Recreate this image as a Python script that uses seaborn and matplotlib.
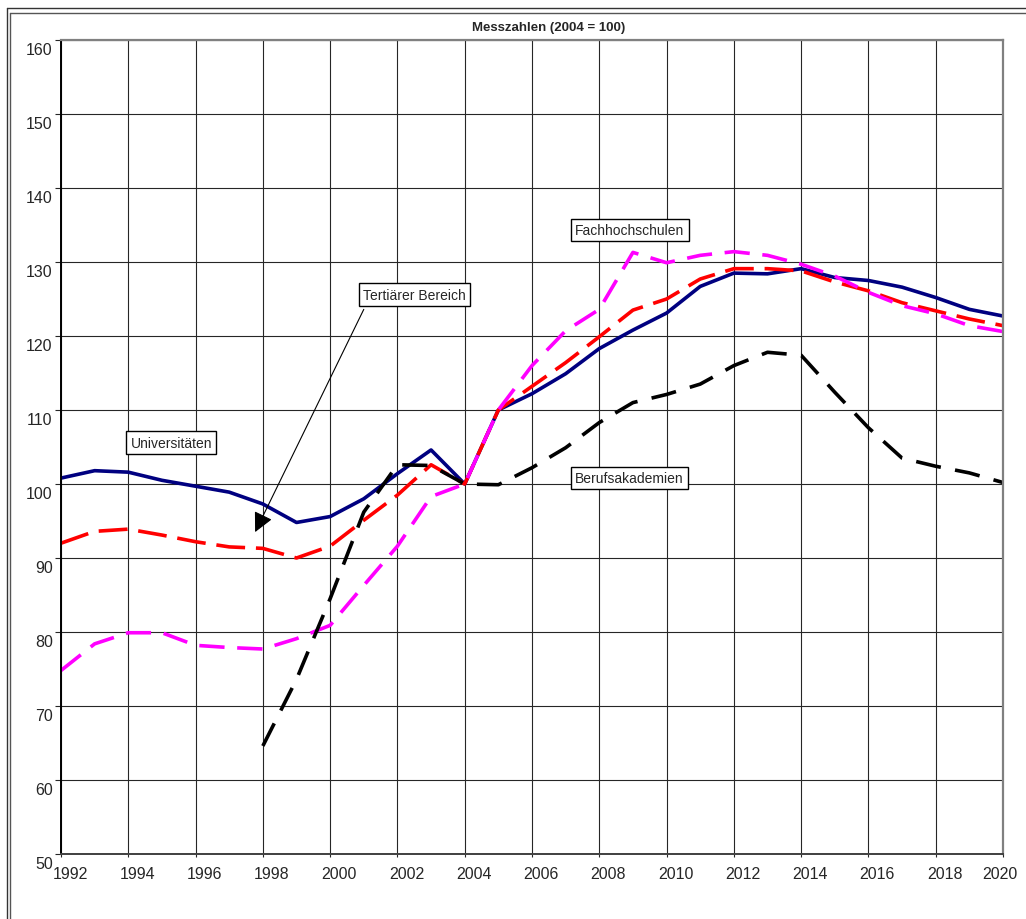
"""Messzahlen (2004 = 100): Studierende nach Hochschulart."""

import matplotlib

matplotlib.use("Agg")
import matplotlib.pyplot as plt
import matplotlib.transforms as mtransforms
import numpy as np
import pandas as pd
import seaborn as sns
from matplotlib.lines import Line2D

years = list(range(1992, 2021))

universitaeten = [100.8, 101.8, 101.6, 100.5, 99.7, 98.9, 97.3, 94.8, 95.6, 98.0,
                  101.4, 104.6, 100.0, 110.0, 112.2, 114.9, 118.3, 120.8, 123.1,
                  126.7, 128.5, 128.4, 129.1, 127.9, 127.5, 126.6, 125.2, 123.6, 122.7]
tertiaer = [92.0, 93.6, 93.9, 93.1, 92.2, 91.5, 91.3, 90.0, 91.6, 95.1,
            98.5, 102.6, 100.0, 110.0, 113.2, 116.4, 119.9, 123.5, 125.0,
            127.7, 129.1, 129.1, 128.8, 127.3, 126.1, 124.5, 123.4, 122.3, 121.4]
fachhochschulen = [74.8, 78.4, 79.9, 79.9, 78.2, 77.9, 77.7, 79.1, 80.9, 86.3,
                   91.6, 98.3, 100.0, 110.0, 116.0, 120.7, 123.6, 131.3, 129.9,
                   130.9, 131.4, 130.9, 129.7, 128.1, 125.9, 124.1, 123.0, 121.4, 120.6]
berufsakademien = [np.nan, np.nan, np.nan, np.nan, np.nan, np.nan, 64.6, 73.6, 84.5, 96.2,
                   102.6, 102.5, 100.0, 99.9, 102.2, 104.9, 108.3, 111.0, 112.1,
                   113.5, 116.0, 117.8, 117.4, 112.4, 107.6, 103.5, 102.4, 101.5, 100.2]

series_names = ["Universitäten", "Tertiärer Bereich", "Fachhochschulen", "Berufsakademien"]
series_values = [universitaeten, tertiaer, fachhochschulen, berufsakademien]

colors = {
    "Universitäten": "#000080",
    "Tertiärer Bereich": "#FF0000",
    "Fachhochschulen": "#FF00FF",
    "Berufsakademien": "#000000",
}
dashes = {
    "Universitäten": "",
    "Tertiärer Bereich": (8, 3),
    "Fachhochschulen": (7, 3.5),
    "Berufsakademien": (7, 4),
}

frames = []
for name, vals in zip(series_names, series_values):
    frames.append(pd.DataFrame({"Jahr": years, "Wert": vals, "Reihe": name}))
df = pd.concat(frames, ignore_index=True).dropna()

sns.set_style("white")
plt.rcParams["font.family"] = ["Liberation Sans", "DejaVu Sans"]

fig = plt.figure(figsize=(10.26, 9.2), dpi=100)
ax = fig.add_axes([61 / 1026, 1 - 855 / 920, (1003 - 61) / 1026, (855 - 41) / 920])

sns.lineplot(
    data=df, x="Jahr", y="Wert", hue="Reihe", style="Reihe",
    palette=colors, dashes=dashes, hue_order=series_names, style_order=series_names,
    linewidth=2.6, legend=False, ax=ax, sort=True,
)

ax.set_xlim(1992, 2020)
ax.set_ylim(50, 160)
ax.set_xticks(list(range(1992, 2021, 2)))
ax.set_yticks(list(range(50, 161, 10)))
ax.set_xlabel("")
ax.set_ylabel("")
ax.grid(True, color="#262626", lw=0.8)
ax.set_axisbelow(True)

for side in ["top", "right"]:
    ax.spines[side].set_color("#808080")
    ax.spines[side].set_linewidth(1.6)
ax.spines["left"].set_color("black")
ax.spines["left"].set_linewidth(1.4)
ax.spines["bottom"].set_color("#404040")
ax.spines["bottom"].set_linewidth(1.4)

ax.tick_params(axis="y", direction="out", length=4, width=0.8, pad=2, labelsize=11.5, left=True)
ax.tick_params(axis="x", direction="out", length=2, width=0.8, pad=7, labelsize=11.5, bottom=True)

# Beschriftungen wie im Original leicht versetzt
down = mtransforms.ScaledTranslation(0, -8 / 100, fig.dpi_scale_trans)
for lab in ax.get_yticklabels():
    lab.set_transform(lab.get_transform() + down)
xlabs = ax.get_xticklabels()
for i, lab in enumerate(xlabs):
    dx = -3 if i == len(xlabs) - 1 else 9
    lab.set_transform(lab.get_transform() + mtransforms.ScaledTranslation(dx / 100, 0, fig.dpi_scale_trans))

fig.text(549 / 1026, 1 - 28 / 920, "Messzahlen (2004 = 100)", ha="center", va="center",
         fontsize=9.5, fontweight="bold")

box = dict(boxstyle="square,pad=0.3", fc="white", ec="black", lw=1.0)
ax.text(1995.28, 105.6, "Universitäten", ha="center", va="center", fontsize=10, bbox=box)
ax.text(2002.5, 125.6, "Tertiärer Bereich", ha="center", va="center", fontsize=10, bbox=box)
ax.text(2008.91, 134.3, "Fachhochschulen", ha="center", va="center", fontsize=10, bbox=box)
ax.text(2008.9, 100.8, "Berufsakademien", ha="center", va="center", fontsize=10, bbox=box)
ax.annotate("", xy=(1997.77, 93.5), xytext=(2001.0, 123.6),
            arrowprops=dict(arrowstyle="-|>", color="black", lw=0.8, mutation_scale=30,
                            shrinkA=0, shrinkB=0))

# doppelter Rahmen um die Grafik
W, H = 1026, 920
fig.add_artist(Line2D([6.7 / W, 6.7 / W], [0, 1 - 9.3 / H], color="#333333", lw=1.0))
fig.add_artist(Line2D([6.7 / W, 1], [1 - 9.3 / H, 1 - 9.3 / H], color="#333333", lw=1.0))
fig.add_artist(Line2D([10 / W, 10 / W], [0, 1 - 14 / H], color="#555555", lw=1.0))
fig.add_artist(Line2D([10 / W, 1], [1 - 14 / H, 1 - 14 / H], color="#555555", lw=1.0))

fig.savefig("out.png", dpi=100)
